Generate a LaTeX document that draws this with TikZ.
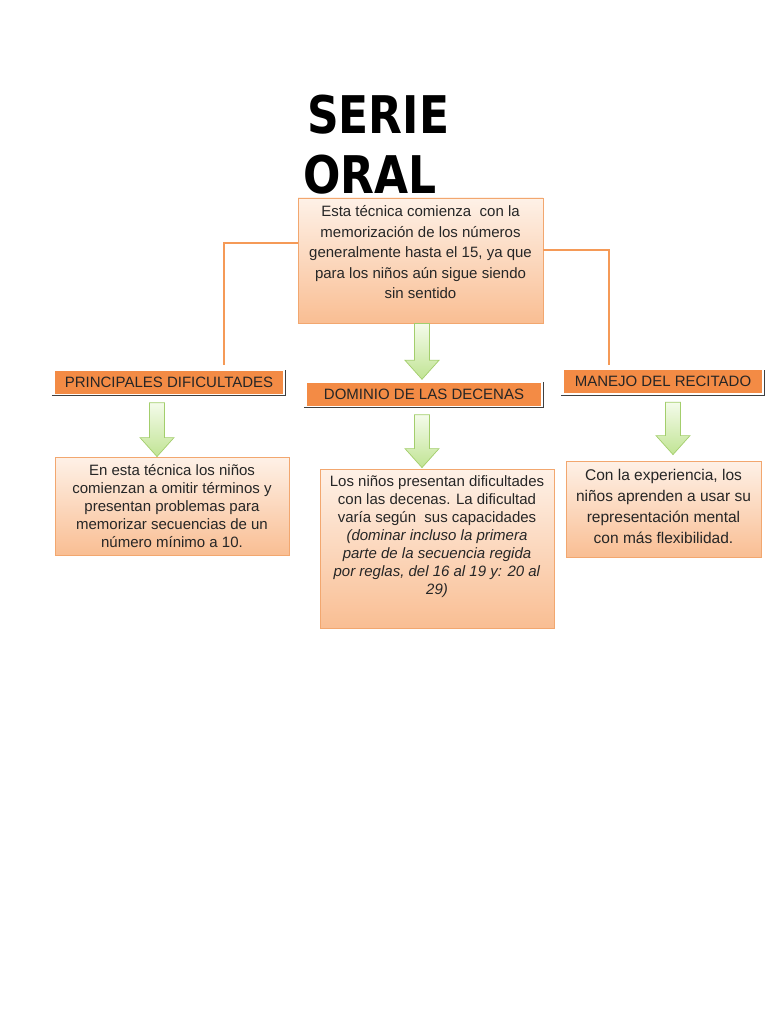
\documentclass[tikz,border=0pt]{standalone}
\usepackage{fontspec}
\setmainfont{Liberation Sans}
\newfontfamily\titlefont{DejaVu Sans}
\usepackage{tikz}
\usetikzlibrary{calc}
\definecolor{cajaTop}{HTML}{FEF1E7}
\definecolor{cajaBot}{HTML}{F9BE93}
\definecolor{cajaLine}{HTML}{F2A76F}
\definecolor{tituloFill}{HTML}{F38B45}
\definecolor{enlace}{HTML}{F59A57}
\definecolor{verdeTop}{HTML}{F4FBEA}
\definecolor{verdeBot}{HTML}{C1E494}
\definecolor{verdeLine}{HTML}{A3CE6C}

% flecha verde de bloque entre dos puntos
\newcommand{\flecha}[2]{%
  \path[greenarrow] let \p1=#1, \p2=#2 in
    (\x1-7.5pt,\y1) -- (\x1+7.5pt,\y1) -- (\x1+7.5pt,\y2+19pt) -- (\x1+17pt,\y2+19pt)
    -- (\x1,\y2) -- (\x1-17pt,\y2+19pt) -- (\x1-7.5pt,\y2+19pt) -- cycle;}

\begin{document}
\begin{tikzpicture}[x=1pt, y=-1pt,
    every node/.style={text=black!85},
    caja/.style={draw=cajaLine, line width=0.8pt, top color=cajaTop, bottom color=cajaBot,
      align=center, inner sep=0pt},
    encabezado/.style={fill=tituloFill, minimum height=23pt, inner sep=0pt,
      font=\fontsize{15}{17}\selectfont},
    sombra/.style={draw=black!75, line width=0.9pt},
    link/.style={draw=enlace, line width=2.6pt},
    greenarrow/.style={draw=verdeLine, line width=0.7pt, top color=verdeTop, bottom color=verdeBot}]
  \useasboundingbox[fill=white] (0,0) rectangle (768,1024);

  % titulo
  \node[anchor=base west, inner sep=0pt, text=black] (t1) at (307,134)
    {\scalebox{1}[1.18]{\titlefont\bfseries\fontsize{44}{50}\selectfont SERIE}};
  \node[anchor=base west, inner sep=0pt, text=black] (t2) at (303,194)
    {\scalebox{1}[1.18]{\titlefont\bfseries\fontsize{44}{50}\selectfont ORAL}};

  \node[caja, minimum width=245pt, minimum height=125pt, text depth=17pt,
    font=\fontsize{15}{20.5}\selectfont] (intro) at (420.5,260.5)
    {Esta técnica comienza\ \ con la\\memorización de los números\\generalmente hasta el 15, ya que\\para los niños aún sigue siendo\\sin sentido};

  % encabezados
  \node[encabezado, minimum width=228pt] (pd) at (169,382) {PRINCIPALES DIFICULTADES};
  \node[encabezado, minimum width=234pt] (dd) at (424,394) {DOMINIO DE LAS DECENAS};
  \node[encabezado, minimum width=198pt] (mr) at (663,381.5) {MANEJO DEL RECITADO};
  \foreach \n in {pd,dd,mr}
    \draw[sombra] ([xshift=-3pt,yshift=-2pt]\n.south west) -- ([xshift=2pt,yshift=-2pt]\n.south east)
      -- ([xshift=2pt]\n.north east);

  % cajas de texto
  \node[caja, minimum width=234pt, minimum height=98pt, font=\fontsize{15}{18}\selectfont] (pdt) at (172,506)
    {En esta técnica los niños\\comienzan a omitir términos y\\presentan problemas para\\memorizar secuencias de un\\número mínimo a 10.};
  \node[caja, minimum width=234pt, minimum height=159pt, text depth=26pt,
    font=\fontsize{15}{18}\selectfont] (ddt) at (437,548.5)
    {Los niños presentan dificultades\\con las decenas. La dificultad\\varía según\ \ sus capacidades\\
     \textit{(dominar incluso la primera}\\\textit{parte de la secuencia regida}\\
     \textit{por reglas, del 16 al 19 y: 20 al}\\\textit{29)}};
  \node[caja, minimum width=195pt, minimum height=96pt, text depth=6pt,
    font=\fontsize{15.5}{21}\selectfont] (mrt) at (663.5,509)
    {Con la experiencia, los\\niños aprenden a usar su\\representación mental\\con más flexibilidad.};

  % conexiones
  \draw[link] ([yshift=17.5pt]intro.west) -| ([xshift=55pt,yshift=5pt]pd.north);
  \draw[link] ([yshift=10.5pt]intro.east) -| ([xshift=-54pt,yshift=5pt]mr.north);

  \flecha{([xshift=1.5pt]intro.south)}{([xshift=-2pt,yshift=3pt]dd.north)}
  \flecha{([xshift=-12pt,yshift=-9pt]pd.south)}{([xshift=-15pt]pdt.north)}
  \flecha{([xshift=-2pt,yshift=-9pt]dd.south)}{([xshift=-15pt,yshift=1pt]ddt.north)}
  \flecha{([xshift=10pt,yshift=-9pt]mr.south)}{([xshift=9.5pt,yshift=6pt]mrt.north)}
\end{tikzpicture}
\end{document}
